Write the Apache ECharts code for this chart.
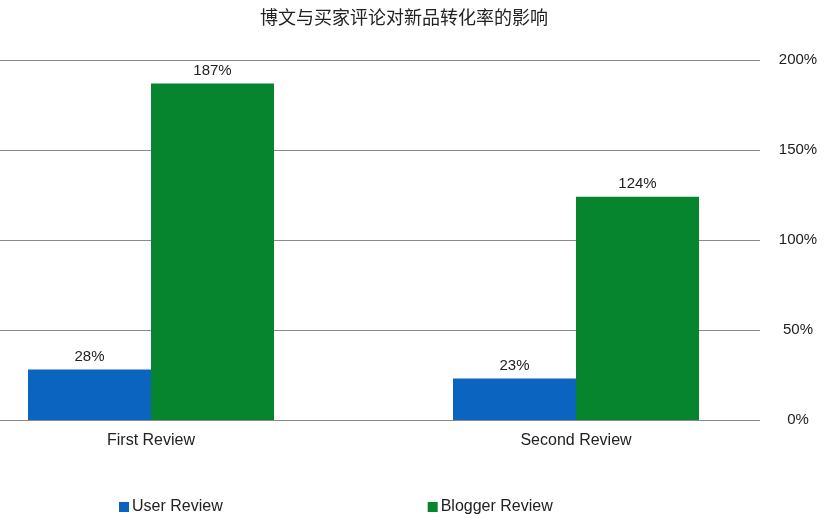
<!DOCTYPE html>
<html>
<head>
<meta charset="utf-8">
<script src="https://cdn.jsdelivr.net/npm/echarts@6/dist/echarts.min.js"></script>
<style>
html,body{margin:0;padding:0;background:#fff;}
#chart{width:829px;height:518px;}
</style>
</head>
<body>
<div id="chart"></div>
<script>
var titleText = '博文与买家评论对新品转化率的影响';
var categories = ['First Review', 'Second Review'];
var seriesNames = ['User Review', 'Blogger Review'];
var userReview = [28, 23];
var bloggerReview = [187, 124];
var yTicks = [0, 50, 100, 150, 200];

var chart = echarts.init(document.getElementById('chart'));
var font = 'Liberation Sans, Arial, sans-serif';
var labelOpt = {
  show: true, position: 'top', distance: 5,
  formatter: function (p) { return p.value + '%'; },
  color: '#222', fontSize: 15, fontFamily: font
};
chart.setOption({
  animation: false,
  backgroundColor: '#fff',
  title: {
    text: titleText, left: 399, top: 3, textAlign: 'center',
    textStyle: { fontFamily: 'Noto Sans CJK SC', fontWeight: 'normal', fontSize: 18, color: '#222' }
  },
  legend: {
    data: seriesNames, left: 114, bottom: -2, itemWidth: 10, itemHeight: 10, itemGap: 205,
    icon: 'rect',
    textStyle: { fontFamily: font, fontSize: 16, color: '#222', padding: [0, 0, 0, -2] }
  },
  grid: [
    { left: 0, width: 760, top: 60, height: 360, outerBoundsMode: 'none' },
    { left: -61.5, width: 850, top: 60, height: 360, outerBoundsMode: 'none' }
  ],
  xAxis: [
    { gridIndex: 0, type: 'category', data: categories, show: false },
    {
      gridIndex: 1, type: 'category', data: categories,
      axisLine: { show: false }, axisTick: { show: false },
      axisLabel: { margin: 13, color: '#222', fontSize: 16, fontFamily: font }
    }
  ],
  yAxis: [
    {
      gridIndex: 0, type: 'value', position: 'right', min: yTicks[0], max: yTicks[yTicks.length - 1], interval: 50,
      axisLine: { show: false }, axisTick: { show: false },
      splitLine: { lineStyle: { color: '#8a8a8a', width: 1 } },
      axisLabel: { formatter: '{value}%', align: 'center', margin: 38, color: '#222', fontSize: 15, fontFamily: font }
    },
    { gridIndex: 1, type: 'value', min: 0, max: 200, show: false }
  ],
  series: [
    {
      name: seriesNames[0], type: 'bar', xAxisIndex: 1, yAxisIndex: 1,
      data: userReview, barWidth: 123, barGap: '0%',
      itemStyle: { color: '#0b64c0' }, label: labelOpt
    },
    {
      name: seriesNames[1], type: 'bar', xAxisIndex: 1, yAxisIndex: 1,
      data: bloggerReview, barWidth: 123, barGap: '0%',
      itemStyle: { color: '#07852e' }, label: labelOpt
    }
  ]
});
</script>
</body>
</html>
